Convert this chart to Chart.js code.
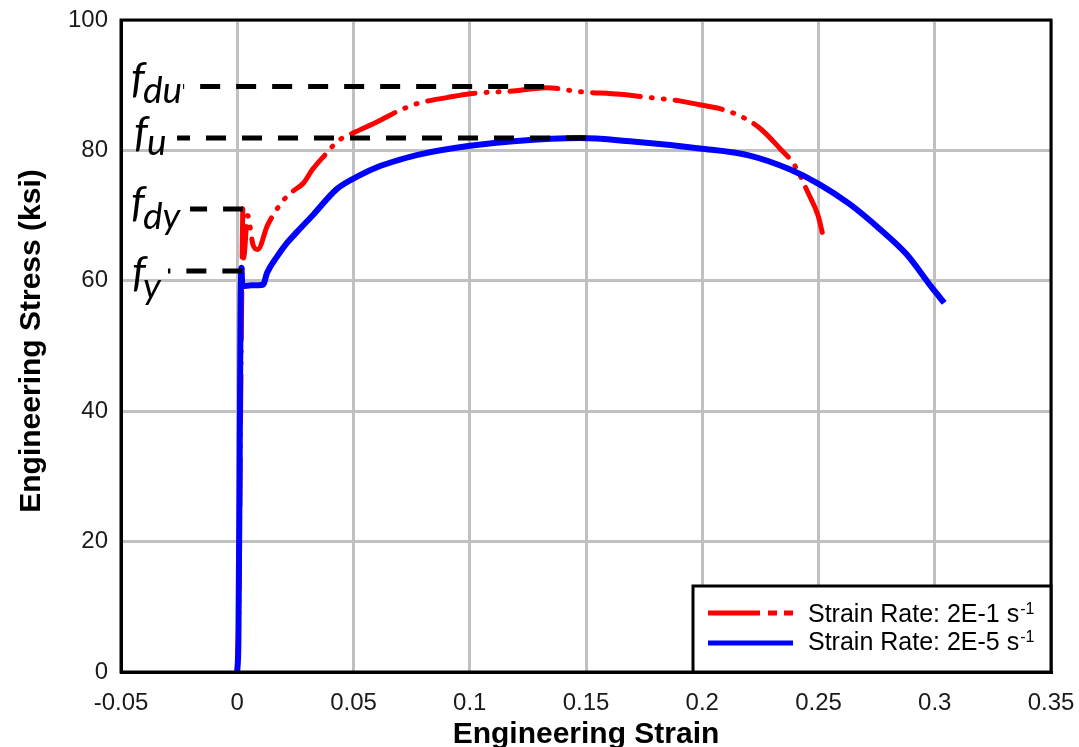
<!DOCTYPE html>
<html>
<head>
<meta charset="utf-8">
<script src="https://cdn.jsdelivr.net/npm/chart.js@4.4.0/dist/chart.umd.min.js"></script>
<style>
  html, body { margin: 0; padding: 0; background: #fff; }
</style>
</head>
<body>
<canvas id="chart" width="1079" height="747"></canvas>
<script>
// strain rate 2E-1 s^-1
const fastStrain = [0, 0.0008, 0.0012, 0.0017, 0.0021, 0.0024, 0.0027, 0.0045, 0.0068, 0.0088,
  0.013, 0.0195, 0.0238, 0.0285, 0.0324, 0.0385, 0.0431, 0.05, 0.0603, 0.0702,
  0.0786, 0.0902, 0.1001, 0.1186, 0.1332, 0.1474, 0.1646, 0.1775, 0.1903, 0.1989,
  0.2076, 0.2162, 0.2248, 0.2334, 0.2399, 0.2455, 0.2498, 0.2519];
const fastStress = [0, 12, 30, 50, 63, 71.2, 63.5, 70.0, 65.5, 64.8,
  68.5, 72.2, 73.7, 75.0, 77.1, 79.6, 81.4, 82.7, 84.4, 86.2,
  87.3, 88.1, 88.7, 89.1, 89.6, 89.0, 88.6, 88.1, 87.6, 87.0,
  86.4, 85.3, 83.4, 80.3, 77.6, 73.5, 70.0, 67.0];

// strain rate 2E-5 s^-1
const slowStrain = [0, 0.0005, 0.001, 0.0014, 0.0018, 0.0022, 0.006, 0.0111, 0.0128, 0.0171,
  0.0214, 0.0257, 0.0326, 0.0429, 0.0528, 0.0614, 0.07, 0.0786, 0.1001, 0.1187,
  0.1474, 0.1689, 0.1989, 0.2204, 0.2376, 0.2504, 0.2633, 0.2762, 0.2878, 0.2989,
  0.3041];
const slowStress = [0, 5, 30, 55, 62, 59.2, 59.3, 59.4, 61.2, 63.7,
  65.8, 67.5, 70.1, 74.1, 76.2, 77.6, 78.6, 79.4, 80.7, 81.4,
  81.9, 81.4, 80.3, 79.2, 77.1, 74.8, 71.8, 68.0, 64.1, 58.9,
  56.6];

const seriesNames = ['Strain Rate: 2E-1 s', 'Strain Rate: 2E-5 s'];

const xTicks = [-0.05, 0, 0.05, 0.1, 0.15, 0.2, 0.25, 0.3, 0.35];
const xTickLabels = ['-0.05', '0', '0.05', '0.1', '0.15', '0.2', '0.25', '0.3', '0.35'];
const yTicks = [0, 20, 40, 60, 80, 100];

// characteristic stresses f_du, f_u, f_dy, f_y
const refNames = ['du', 'u', 'dy', 'y'];
const refStress = [89.8, 81.9, 71.0, 61.5];
const refFrom = [-0.0233, -0.0259, -0.0203, -0.0298];
const refTo = [0.132, 0.15, 0.0025, 0.0022];

const RED = '#ff0000';
const BLUE = '#0000ff';

// label placement: [f dx, f dy, sub dx, sub dy] from plot left / line level
const refLabelPos = [[10, 6, 22, 16], [13, 9, 26, 17], [10, 8, 22, 20], [11, 16, 22, 28]];

const toPoints = (xs, ys) => xs.map((v, i) => ({ x: v, y: ys[i] }));

const datasets = [
  {
    label: seriesNames[0],
    data: toPoints(fastStrain, fastStress),
    borderColor: RED,
    borderWidth: 5,
    borderDash: [48, 11, 1, 11, 1, 11],
    borderCapStyle: 'round',
    cubicInterpolationMode: 'monotone',
    pointRadius: 0,
    order: 2
  },
  {
    label: seriesNames[1],
    data: toPoints(slowStrain, slowStress),
    borderColor: BLUE,
    borderWidth: 6,
    cubicInterpolationMode: 'monotone',
    pointRadius: 0,
    order: 1
  }
];

refStress.forEach((s, i) => {
  datasets.push({
    label: 'f' + refNames[i],
    // drawn from the right end so the dash pattern starts there
    data: [{ x: refTo[i], y: s }, { x: refFrom[i], y: s }],
    borderColor: '#000',
    borderWidth: 5,
    borderDash: [20, 16],
    pointRadius: 0,
    order: 0
  });
});

const decorations = {
  id: 'decorations',
  afterDraw(chart) {
    const { ctx, chartArea: a, scales: { y } } = chart;
    ctx.save();

    // plot frame
    ctx.strokeStyle = '#000';
    ctx.lineWidth = 3;
    ctx.setLineDash([]);
    ctx.strokeRect(a.left, a.top, a.right - a.left, a.bottom - a.top);

    // f labels
    ctx.fillStyle = '#000';
    ctx.textAlign = 'left';
    ctx.textBaseline = 'alphabetic';
    refNames.forEach((name, i) => {
      const py = y.getPixelForValue(refStress[i]);
      const p = refLabelPos[i];
      ctx.font = 'italic 43px Lato, "DejaVu Sans", sans-serif';
      ctx.fillText('f', a.left + p[0], py + p[1]);
      ctx.font = 'italic 37px Lato, "DejaVu Sans", sans-serif';
      ctx.fillText(name, a.left + p[2], py + p[3]);
    });

    // legend box
    const lw = 358, lh = 86;
    const lx = a.right - lw, ly = a.bottom - lh;
    ctx.fillStyle = '#fff';
    ctx.fillRect(lx, ly, lw, lh);
    ctx.strokeStyle = '#000';
    ctx.lineWidth = 3;
    ctx.strokeRect(lx, ly, lw, lh);

    const rows = [
      { color: RED, dash: [52, 8, 9, 7, 9, 20], y: 27, base: 36 },
      { color: BLUE, dash: [], y: 57, base: 64 }
    ];
    rows.forEach((r, i) => {
      ctx.strokeStyle = r.color;
      ctx.lineWidth = 5;
      ctx.lineCap = 'butt';
      ctx.setLineDash(r.dash);
      ctx.beginPath();
      ctx.moveTo(lx + 15, ly + r.y);
      ctx.lineTo(lx + 100, ly + r.y);
      ctx.stroke();
      ctx.setLineDash([]);
      ctx.fillStyle = '#000';
      ctx.font = '25px "Liberation Sans", Arial, sans-serif';
      ctx.fillText(seriesNames[i], lx + 115, ly + r.base);
      const w = ctx.measureText(seriesNames[i]).width;
      ctx.font = '16px "Liberation Sans", Arial, sans-serif';
      ctx.fillText('-1', lx + 115 + w + 1, ly + r.base - 8);
    });

    // axis titles
    ctx.fillStyle = '#000';
    ctx.font = 'bold 30px "Liberation Sans", Arial, sans-serif';
    ctx.textAlign = 'center';
    ctx.fillText('Engineering Strain', (a.left + a.right) / 2, 743);
    ctx.translate(40, 341);
    ctx.rotate(-Math.PI / 2);
    ctx.fillText('Engineering Stress (ksi)', 0, 0);

    ctx.restore();
  }
};

// keep tick labels from pushing the plot area around
const noPad = (scale) => {
  scale.paddingLeft = 0;
  scale.paddingRight = 0;
  scale.paddingTop = 0;
  scale.paddingBottom = 0;
};

const tickFont = { family: '"Liberation Sans", Arial, sans-serif', size: 24 };

new Chart(document.getElementById('chart'), {
  type: 'line',
  data: { datasets },
  options: {
    responsive: false,
    devicePixelRatio: 1,
    animation: false,
    layout: { padding: { left: 0, top: 20, right: 28, bottom: 0 } },
    plugins: {
      legend: { display: false },
      tooltip: { enabled: false }
    },
    scales: {
      x: {
        type: 'linear',
        min: -0.05,
        max: 0.35,
        afterBuildTicks: (scale) => { scale.ticks = xTicks.map(v => ({ value: v })); },
        afterFit: (scale) => { scale.height = 75; noPad(scale); },
        ticks: {
          callback: (v, i) => xTickLabels[i],
          font: tickFont,
          color: '#1a1a1a',
          padding: 17,
          maxRotation: 0,
          autoSkip: false
        },
        grid: { color: '#c0c0c0', lineWidth: 3, drawTicks: false },
        border: { display: true, color: '#000', width: 3 }
      },
      y: {
        type: 'linear',
        min: 0,
        max: 100,
        afterBuildTicks: (scale) => { scale.ticks = yTicks.map(v => ({ value: v })); },
        afterFit: (scale) => { scale.width = 121; noPad(scale); },
        ticks: {
          font: tickFont,
          color: '#1a1a1a',
          padding: 13,
          autoSkip: false
        },
        grid: { color: '#c0c0c0', lineWidth: 3, drawTicks: false },
        border: { display: true, color: '#000', width: 3 }
      }
    }
  },
  plugins: [decorations]
});
</script>
</body>
</html>
